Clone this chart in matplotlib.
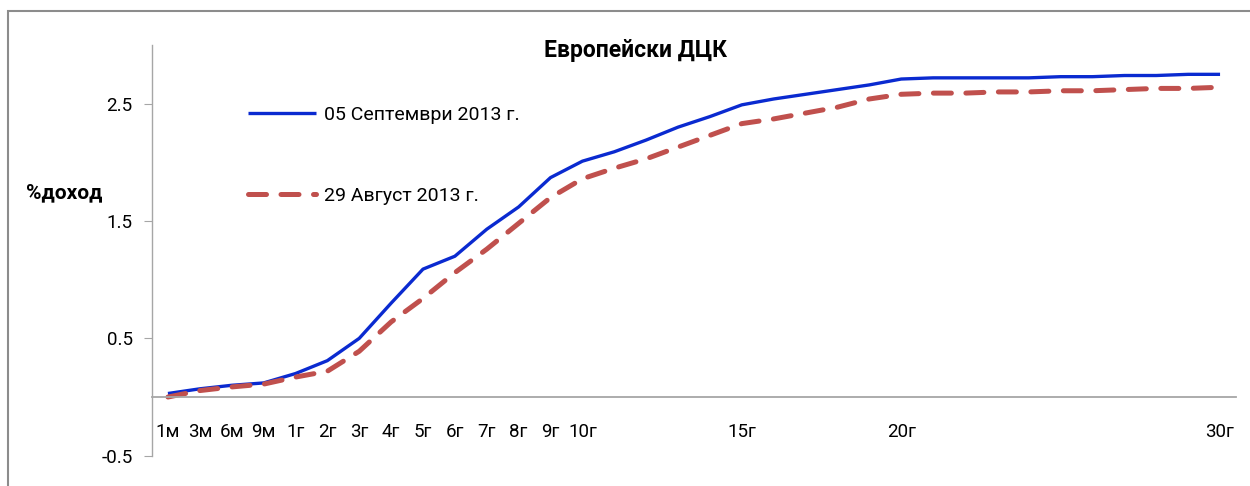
import matplotlib
matplotlib.use("Agg")
import matplotlib.pyplot as plt
from matplotlib.patches import Rectangle

plt.rcParams['font.family'] = ['Roboto', 'DejaVu Sans']

categories = ["1м", "3м", "6м", "9м"] + [f"{i}г" for i in range(1, 31)]
shown_labels = ["1м", "3м", "6м", "9м", "1г", "2г", "3г", "4г", "5г", "6г", "7г",
                "8г", "9г", "10г", "15г", "20г", "30г"]

sep_05 = [0.03, 0.07, 0.10, 0.12, 0.20, 0.31, 0.50, 0.80, 1.09, 1.20, 1.43,
          1.62, 1.87, 2.01, 2.09, 2.19, 2.30, 2.39, 2.49, 2.54, 2.58, 2.62,
          2.66, 2.71, 2.72, 2.72, 2.72, 2.72, 2.73, 2.73, 2.74, 2.74, 2.75, 2.75]
aug_29 = [0.00, 0.055, 0.086, 0.11, 0.17, 0.22, 0.39, 0.64, 0.84, 1.06, 1.26,
          1.48, 1.70, 1.86, 1.95, 2.03, 2.13, 2.23, 2.33, 2.37, 2.42, 2.47,
          2.54, 2.58, 2.59, 2.59, 2.60, 2.60, 2.61, 2.61, 2.62, 2.63, 2.63, 2.64]

yticks = [-0.5, 0.5, 1.5, 2.5]
title = "Европейски ДЦК"
ylabel = "%доход"
names = ["05 Септември 2013 г.", "29 Август 2013 г."]

W, H = 1250, 486
fig = plt.figure(figsize=(W / 100, H / 100), dpi=100)
ax = fig.add_axes([152 / W, 1 - 455.7 / H, (1236 - 152) / W, (455.7 - 45) / H])

x = list(range(len(categories)))
ax.plot(x, sep_05, color='#0A2AD0', lw=2.4, label=names[0], solid_capstyle='butt')
ax.plot(x, aug_29, color='#C0504D', lw=3.6, ls=(0, (3.6, 2.9)), label=names[1],
        dash_capstyle='round')

ax.set_xlim(-0.5, len(categories) - 0.5)
ax.set_ylim(-0.5, 3.0)
ax.set_yticks(yticks)
ax.set_yticklabels([f"{v:.1f}" for v in yticks])
ax.set_xticks([categories.index(c) for c in shown_labels])
ax.set_xticklabels(shown_labels)

for s in ['top', 'right']:
    ax.spines[s].set_visible(False)
ax.spines['bottom'].set_position(('data', 0))
ax.spines['bottom'].set_color('#A6A6A6')
ax.spines['bottom'].set_linewidth(1.3)
ax.spines['left'].set_color('#A6A6A6')
ax.spines['left'].set_linewidth(1.0)
ax.tick_params(axis='y', direction='out', length=6, color='#A6A6A6', labelsize=13.5, pad=8)
ax.tick_params(axis='x', length=0, labelsize=13.5, pad=19)

fig.text(636 / W, 1 - 50 / H, title, ha='center', va='center', fontsize=16.5, fontweight='bold')
fig.text(26 / W, 1 - 193 / H, ylabel, ha='left', va='center', fontsize=15, fontweight='bold')

leg = ax.legend(loc='upper left', bbox_to_anchor=(248 / W, 1 - 106 / H),
                bbox_transform=fig.transFigure, frameon=False, fontsize=14,
                handlelength=3.5, handletextpad=0.4, labelspacing=3.24,
                borderpad=0, borderaxespad=0)

fig.add_artist(Rectangle((8 / W, -0.1), 1.2, 1.1 - 11 / H, transform=fig.transFigure,
                         fill=False, ec='#8C8C8C', lw=1.5))

fig.savefig("out.png", dpi=100)
